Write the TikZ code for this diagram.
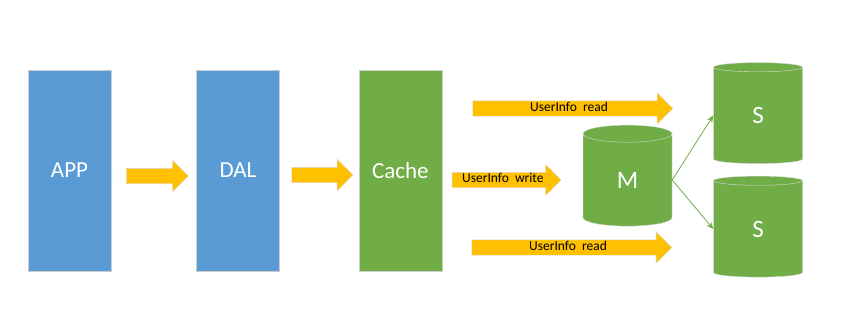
\documentclass[tikz,border=0pt]{standalone}
\usepackage{fontspec}
\setmainfont{Carlito}
\definecolor{tierblue}{HTML}{5B9BD5}
\definecolor{tiergreen}{HTML}{70AD47}
\definecolor{flowyellow}{HTML}{FFC000}
\usetikzlibrary{arrows.meta,shapes.geometric,shapes.arrows,positioning}
\tikzset{
  tier_blue/.style={draw=gray!40,fill=tierblue,minimum width=83pt,minimum height=201pt,
    inner sep=0pt,font=\fontsize{23}{27}\selectfont\color{white}},
  tier_green/.style={tier_blue,fill=tiergreen},
  flow_arr/.style={single arrow,draw=gray!30,fill=flowyellow,single arrow head extend=8pt,
    inner xsep=0pt,inner ysep=2pt,text height=8pt,text depth=3pt,
    font=\fontsize{13.5}{16}\selectfont\color{black}},
  db_cyl/.style={cylinder,shape border rotate=90,aspect=0.8,draw=gray!30,fill=tiergreen,
    minimum width=89pt,minimum height=101pt,inner sep=0pt,
    font=\fontsize{25}{29}\selectfont\color{white}},
  repl/.style={-{Stealth[length=7pt,width=6pt]},draw=tiergreen,line width=0.8pt},
}
\begin{document}
\begin{tikzpicture}[x=1pt,y=-1pt]
  \useasboundingbox (0,0) rectangle (854,322);

  \node[tier_blue] (app) at (69.5,170.5) {APP};
  \node[tier_blue,right=85pt of app] (dal) {DAL};
  \node[tier_green,right=79pt of dal] (cache) {Cache};

  \node[flow_arr,minimum height=62pt,right=15pt of app,yshift=-5.5pt] (a1) {};
  \node[flow_arr,minimum height=61pt,right=12pt of dal,yshift=-4.5pt] (a2) {};

  \node[flow_arr,minimum height=109pt,right=10pt of cache,yshift=-9.5pt] (wr) {UserInfo\ \ write};
  \node[flow_arr,minimum height=200pt] (rd1) at (569,108.5) {UserInfo\ \ read};
  \node[flow_arr,minimum height=200pt] (rd2) at (568,247.5) {UserInfo\ \ read};

  \node[db_cyl] (m) at (627.5,180) {M};
  \node[db_cyl] (s1) at (758,115.5) {S};
  \node[db_cyl] (s2) at (758,229) {S};

  \draw[repl] (m.east) -- (s1.west);
  \draw[repl] (m.east) -- (s2.west);
\end{tikzpicture}
\end{document}
